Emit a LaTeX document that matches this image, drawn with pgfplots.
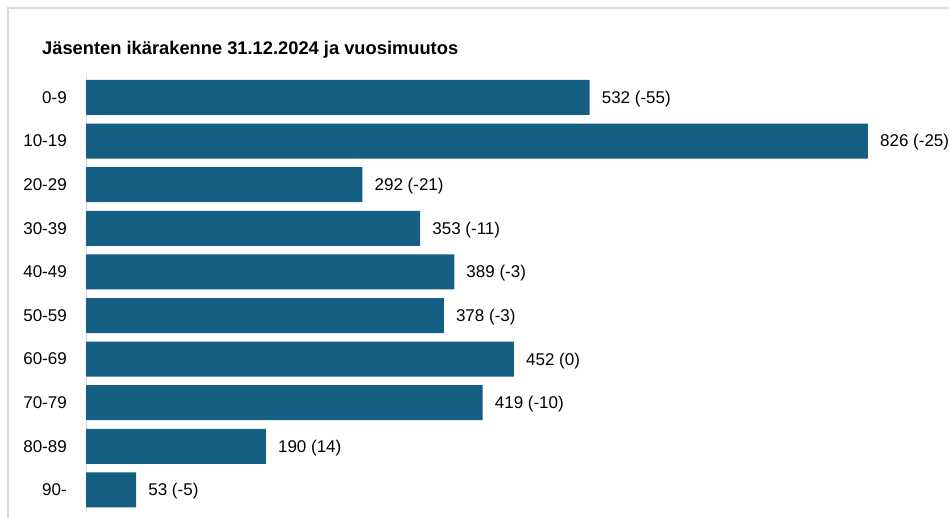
\documentclass[border=0pt]{standalone}
\usepackage{pgfplots}
\pgfplotsset{compat=1.18}
\usepackage{pgfplotstable}
\usepackage{fontspec}
\setmainfont{Liberation Sans}
\definecolor{barc}{HTML}{156082}
\definecolor{framec}{HTML}{D9D9D9}
\pgfplotstableread[col sep=comma]{
y,v,lab
0,532,532 (-55)
1,826,826 (-25)
2,292,292 (-21)
3,353,353 (-11)
4,389,389 (-3)
5,378,378 (-3)
6,452,452 (0)
7,419,419 (-10)
8,190,190 (14)
9,53,53 (-5)
}\data
\begin{document}
\begin{tikzpicture}
\useasboundingbox (0pt,0pt) rectangle (949pt,518pt);
\draw[framec, line width=1.3pt] (8pt,-30pt) -- (8pt,510pt) -- (1000pt,510pt);
\node[anchor=base west, inner sep=0pt, font=\bfseries\fontsize{18.3}{22}\selectfont] at (42pt,463pt) {Jäsenten ikärakenne 31.12.2024 ja vuosimuutos};
\begin{axis}[
  at={(86pt,442.3pt)}, anchor=north west,
  scale only axis, width=852pt, height=436pt,
  xmin=0, xmax=900, ymin=-0.5, ymax=9.5,
  y dir=reverse,
  axis x line=none, axis y line*=left,
  y axis line style={draw=framec, line width=1pt, -},
  ytick={0,...,9},
  yticklabels={0-9,10-19,20-29,30-39,40-49,50-59,60-69,70-79,80-89,90-},
  major tick length=0pt,
  yticklabel style={font=\fontsize{17}{20}\selectfont, anchor=east, inner sep=0pt, xshift=-19pt},
  clip=false,
]
\addplot[xbar, bar width=35pt, fill=barc, draw=none,
  nodes near coords, point meta=explicit symbolic,
  nodes near coords style={anchor=west, inner sep=0pt, xshift=12pt, yshift=-1.5pt, font=\fontsize{17}{20}\selectfont, text=black}]
  table[x=v, y=y, meta=lab] {\data};
\end{axis}
\end{tikzpicture}
\end{document}
